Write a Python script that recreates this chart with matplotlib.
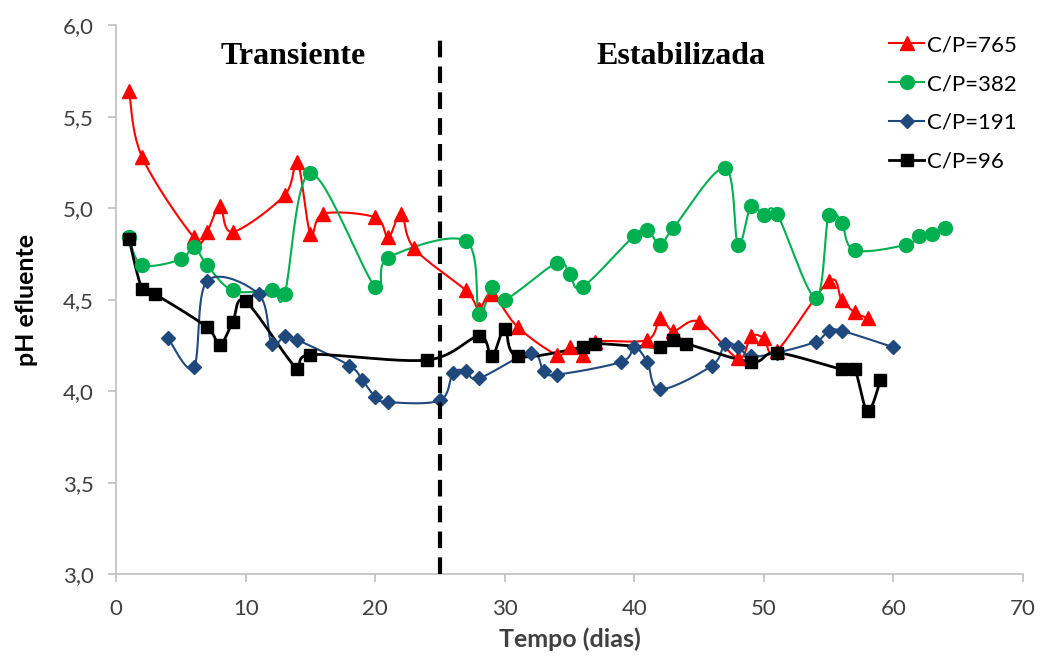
import numpy as np
import matplotlib.pyplot as plt
from matplotlib.ticker import FuncFormatter, MultipleLocator

# C/P = 765
dias_765 = [1, 2, 6, 7, 8, 9, 13, 14, 15, 16, 20, 21, 22, 23, 27, 28, 29, 31, 34, 35,
            36, 37, 41, 42, 43, 45, 48, 49, 50, 51, 55, 56, 57, 58]
ph_765 = [5.64, 5.28, 4.84, 4.87, 5.01, 4.87, 5.07, 5.25, 4.86, 4.97, 4.95, 4.84, 4.97, 4.78,
          4.55, 4.45, 4.53, 4.35, 4.20, 4.24, 4.20, 4.27, 4.28, 4.40, 4.33, 4.38, 4.18, 4.30,
          4.29, 4.22, 4.60, 4.50, 4.43, 4.40]

# C/P = 382
dias_382 = [1, 2, 5, 6, 7, 9, 12, 13, 15, 20, 21, 27, 28, 29, 30, 34, 35, 36, 40, 41, 42,
            43, 47, 48, 49, 50, 51, 54, 55, 56, 57, 61, 62, 63, 64]
ph_382 = [4.84, 4.69, 4.72, 4.79, 4.69, 4.55, 4.55, 4.53, 5.19, 4.57, 4.73, 4.82, 4.42, 4.57,
          4.50, 4.70, 4.64, 4.57, 4.85, 4.88, 4.80, 4.89, 5.22, 4.80, 5.01, 4.96, 4.97, 4.51,
          4.96, 4.92, 4.77, 4.80, 4.85, 4.86, 4.89]

# C/P = 191
dias_191 = [4, 6, 7, 11, 12, 13, 14, 18, 19, 20, 21, 25, 26, 27, 28, 32, 33, 34, 39, 40,
            41, 42, 46, 47, 48, 49, 51, 54, 55, 56, 60]
ph_191 = [4.29, 4.13, 4.60, 4.53, 4.26, 4.30, 4.28, 4.14, 4.06, 3.97, 3.94, 3.95, 4.10, 4.11,
          4.07, 4.21, 4.11, 4.09, 4.16, 4.24, 4.16, 4.01, 4.14, 4.26, 4.24, 4.19, 4.21, 4.27,
          4.33, 4.33, 4.24]

# C/P = 96
dias_96 = [1, 2, 3, 7, 8, 9, 10, 14, 15, 24, 28, 29, 30, 31, 36, 37, 42, 43, 44, 49, 51,
           56, 57, 58, 59]
ph_96 = [4.83, 4.56, 4.53, 4.35, 4.25, 4.38, 4.49, 4.12, 4.20, 4.17, 4.30, 4.19, 4.34, 4.19,
         4.24, 4.26, 4.24, 4.28, 4.26, 4.16, 4.21, 4.12, 4.12, 3.89, 4.06]

fim_transiente = 25.0


def smooth(x, y, n=24):
    # cubic bezier through the points, same idea as the excel "smoothed line"
    x = np.asarray(x, float)
    y = np.asarray(y, float)
    p = np.column_stack([x, y])
    p = np.vstack([p[0], p, p[-1]])
    t = np.linspace(0, 1, n)[:, None]
    out = []
    for i in range(1, len(p) - 2):
        p0, p1, p2, p3 = p[i - 1], p[i], p[i + 1], p[i + 2]
        c1 = p1 + (p2 - p0) / 6
        c2 = p2 - (p3 - p1) / 6
        seg = ((1 - t) ** 3) * p1 + 3 * ((1 - t) ** 2) * t * c1 + 3 * (1 - t) * t ** 2 * c2 + t ** 3 * p2
        out.append(seg if i == 1 else seg[1:])
    out = np.vstack(out)
    return out[:, 0], out[:, 1]


plt.rcParams['font.family'] = ['Lato', 'DejaVu Sans']

fig = plt.figure(figsize=(10.46, 6.6), dpi=100)
ax = fig.add_axes([0.111, 0.13, 0.867, 0.832])

series = [
    (dias_765, ph_765, '#ff0000', '^', 10, 1.5, 'C/P=765'),
    (dias_382, ph_382, '#00b050', 'o', 10, 1.5, 'C/P=382'),
    (dias_191, ph_191, '#1f497d', 'D', 7, 1.5, 'C/P=191'),
    (dias_96, ph_96, '#000000', 's', 8, 2.0, 'C/P=96'),
]

handles = []
for x, y, cor, mk, ms, lw, nome in series:
    sx, sy = smooth(x, y)
    ax.plot(sx, sy, color=cor, lw=lw, zorder=2)
    ax.plot(x, y, ls='none', marker=mk, ms=ms, color=cor, zorder=3)
    h, = ax.plot([], [], color=cor, lw=lw, marker=mk, ms=ms, label=nome)
    handles.append(h)

ax.plot([fim_transiente, fim_transiente], [3.0, 5.95], color='black', lw=3,
        dashes=(4, 2.2), zorder=4)

ax.text(13.7, 5.83, 'Transiente', ha='center', va='center', fontsize=23,
        fontweight='bold', family='Liberation Serif')
ax.text(43.6, 5.83, 'Estabilizada', ha='center', va='center', fontsize=23,
        fontweight='bold', family='Liberation Serif')

ax.set_xlim(0, 70)
ax.set_ylim(3.0, 6.0)
ax.xaxis.set_major_locator(MultipleLocator(10))
ax.yaxis.set_major_locator(MultipleLocator(0.5))
ax.yaxis.set_major_formatter(FuncFormatter(lambda v, pos: f'{v:.1f}'.replace('.', ',')))

for s in ['top', 'right']:
    ax.spines[s].set_visible(False)
for s in ['left', 'bottom']:
    ax.spines[s].set_color('#bfbfbf')
    ax.spines[s].set_linewidth(1.2)
ax.tick_params(colors='#bfbfbf', labelcolor='#404040', labelsize=16, length=6, width=1.2)
ax.tick_params(axis='x', pad=12)
ax.tick_params(axis='y', pad=10)

ax.set_xlabel('Tempo (dias)', fontsize=18, fontweight='bold', color='#404040', labelpad=6)
ax.set_ylabel('pH efluente', fontsize=18, fontweight='bold', color='black', labelpad=18)

ax.legend(handles=handles, loc='upper right', bbox_to_anchor=(1.015, 1.018), frameon=False,
          fontsize=16, handlelength=1.6, handletextpad=0.1, labelspacing=0.85)

fig.savefig('out.png', dpi=100)
